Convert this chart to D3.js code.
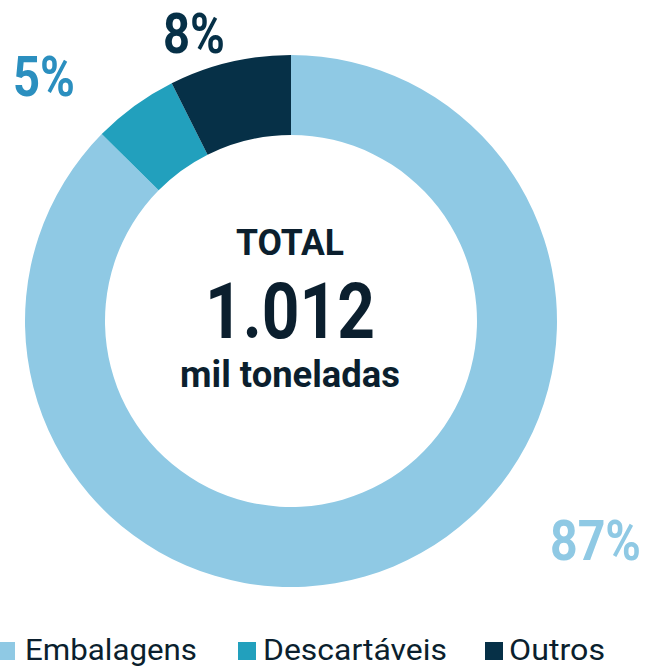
<!DOCTYPE html>
<html>
<head>
<meta charset="utf-8">
<script src="https://cdn.jsdelivr.net/npm/d3@7"></script>
<style>
  body { margin: 0; background: #fff; }
  svg { display: block; font-family: Roboto, "Noto Sans", sans-serif; }
</style>
</head>
<body>
<svg id="chart" width="649" height="666"></svg>
<script>
// data
var categories = ["Embalagens", "Descartáveis", "Outros"];
// slice shares as drawn in the picture
var values = [87.4, 5.2, 7.4];
// rounded labels as printed
var pctLabels = ["87%", "5%", "8%"];
var sliceColors = ["#8fc9e4", "#22a0bd", "#063047"];
var labelColors = ["#8fc9e4", "#2b8fbf", "#063047"];
var totalLabel = "TOTAL";
var totalValue = "1.012";
var totalUnit = "mil toneladas";

var svg = d3.select("#chart");

var cx = 291, cy = 321,
    outerR = 266, innerR = 186;

var pie = d3.pie().sort(null).value(function (d) { return d; });
var arc = d3.arc().innerRadius(innerR).outerRadius(outerR);
var arcs = pie(values);

var g = svg.append("g").attr("transform", "translate(" + cx + "," + cy + ")");

g.selectAll("path")
    .data(arcs)
    .enter()
    .append("path")
    .attr("d", arc)
    .attr("fill", function (d, i) { return sliceColors[i]; });

// percent labels (outside the ring), left edge x and target width
var labelPos = [
    {x: 550, y: 560, w: 91},
    {x: 13, y: 96, w: 62},
    {x: 163, y: 53, w: 62}
];
svg.selectAll("text.pct")
    .data(pctLabels)
    .enter()
    .append("text")
    .attr("class", "pct")
    .attr("font-size", 55)
    .attr("font-weight", "bold")
    .attr("fill", function (d, i) { return labelColors[i]; })
    .text(function (d) { return d; })
    .attr("transform", function (d, i) {
        // squeeze horizontally to the condensed width of the original face
        var sx = labelPos[i].w / this.getComputedTextLength();
        return "translate(" + labelPos[i].x + "," + labelPos[i].y + ") scale(" + sx + ",1)";
    });

// center text
var center = [
    {t: totalLabel, y: 255, size: 36, w: 108},
    {t: totalValue, y: 338, size: 77, w: 170},
    {t: totalUnit, y: 387, size: 36, w: 220}
];
svg.selectAll("text.center")
    .data(center)
    .enter()
    .append("text")
    .attr("class", "center")
    .attr("x", 290)
    .attr("y", function (d) { return d.y; })
    .attr("text-anchor", "middle")
    .attr("font-size", function (d) { return d.size; })
    .attr("font-weight", "bold")
    .attr("textLength", function (d) { return d.w; })
    .attr("lengthAdjust", "spacingAndGlyphs")
    .attr("fill", "#0b1f2e")
    .text(function (d) { return d.t; });

// legend
var swatchX = [-3, 238, 485];
var textX = [25, 263, 509];
var textW = [172, 184, 96];

svg.selectAll("rect.swatch")
    .data(categories)
    .enter()
    .append("rect")
    .attr("class", "swatch")
    .attr("x", function (d, i) { return swatchX[i]; })
    .attr("y", 642)
    .attr("width", 18)
    .attr("height", 18)
    .attr("fill", function (d, i) { return sliceColors[i]; });

svg.selectAll("text.legend")
    .data(categories)
    .enter()
    .append("text")
    .attr("class", "legend")
    .attr("x", function (d, i) { return textX[i]; })
    .attr("y", 660)
    .attr("font-size", 29)
    .attr("textLength", function (d, i) { return textW[i]; })
    .attr("lengthAdjust", "spacingAndGlyphs")
    .attr("fill", "#0b1f2e")
    .text(function (d) { return d; });
</script>
</body>
</html>
